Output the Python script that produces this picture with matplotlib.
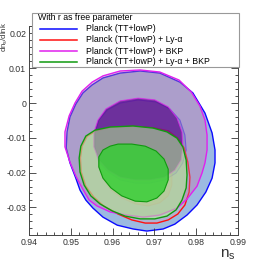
import matplotlib
matplotlib.use('Agg')
import matplotlib.pyplot as plt
from matplotlib.patches import Polygon, Rectangle
from matplotlib.lines import Line2D
from matplotlib.ticker import MultipleLocator

plt.rcParams['font.family'] = ['Liberation Sans', 'DejaVu Sans']

# contours: (n_s, dn_s/dlnk)
planck_2s = [(0.9666, 0.0092), (0.9713, 0.0086), (0.9761, 0.0060), (0.9792, 0.0029),
             (0.9821, -0.0029), (0.9838, -0.0086), (0.9845, -0.0135), (0.9845, -0.0172),
             (0.9838, -0.0216), (0.9823, -0.0256), (0.9802, -0.0293), (0.9778, -0.0322),
             (0.9749, -0.0348), (0.9721, -0.0362), (0.9682, -0.0368), (0.9649, -0.0362),
             (0.9611, -0.0351), (0.9577, -0.0328), (0.9553, -0.0302), (0.9536, -0.0279),
             (0.9522, -0.0250), (0.9512, -0.0216), (0.9498, -0.0172), (0.9489, -0.0129),
             (0.9491, -0.0083), (0.9498, -0.0040), (0.9512, -0.0003), (0.9529, 0.0029),
             (0.9551, 0.0052), (0.9577, 0.0072), (0.9618, 0.0086)]
planck_1s = [(0.9661, 0.0009), (0.9704, 0.0003), (0.9737, -0.0017), (0.9761, -0.0049),
             (0.9773, -0.0092), (0.9776, -0.0135), (0.9768, -0.0172), (0.9752, -0.0201),
             (0.9725, -0.0221), (0.9689, -0.0230), (0.9654, -0.0230), (0.9618, -0.0221),
             (0.9589, -0.0198), (0.9567, -0.0170), (0.9558, -0.0129), (0.9558, -0.0086),
             (0.9567, -0.0049), (0.9587, -0.0020), (0.9618, 0.0000)]
lya_2s = [(0.9596, -0.0070), (0.9649, -0.0067), (0.9697, -0.0071), (0.9733, -0.0080),
          (0.9756, -0.0101), (0.9771, -0.0129), (0.9780, -0.0170), (0.9785, -0.0213),
          (0.9783, -0.0256), (0.9773, -0.0293), (0.9756, -0.0319), (0.9733, -0.0336),
          (0.9706, -0.0345), (0.9678, -0.0345), (0.9646, -0.0336), (0.9613, -0.0319),
          (0.9579, -0.0296), (0.9555, -0.0270), (0.9536, -0.0239), (0.9525, -0.0198),
          (0.9523, -0.0158), (0.9527, -0.0124), (0.9539, -0.0096), (0.9560, -0.0080)]
lya_1s = [(0.9618, -0.0118), (0.9651, -0.0118), (0.9685, -0.0126), (0.9713, -0.0144),
          (0.9733, -0.0170), (0.9742, -0.0201), (0.9742, -0.0236), (0.9733, -0.0267),
          (0.9713, -0.0287), (0.9685, -0.0296), (0.9654, -0.0290), (0.9622, -0.0273),
          (0.9596, -0.0250), (0.9577, -0.0218), (0.9567, -0.0184), (0.9567, -0.0155),
          (0.9577, -0.0135), (0.9594, -0.0124)]
bkp_2s = [(0.9666, 0.0095), (0.9713, 0.0089), (0.9759, 0.0066), (0.9788, 0.0032),
          (0.9809, -0.0009), (0.9821, -0.0049), (0.9826, -0.0092), (0.9826, -0.0135),
          (0.9821, -0.0172), (0.9814, -0.0201), (0.9802, -0.0239), (0.9778, -0.0276),
          (0.9754, -0.0302), (0.9713, -0.0322), (0.9673, -0.0328), (0.9634, -0.0322),
          (0.9594, -0.0313), (0.9563, -0.0296), (0.9544, -0.0279), (0.9527, -0.0244),
          (0.9512, -0.0210), (0.9498, -0.0170), (0.9486, -0.0126), (0.9486, -0.0083),
          (0.9496, -0.0037), (0.9510, 0.0000), (0.9527, 0.0034), (0.9551, 0.0060),
          (0.9577, 0.0078), (0.9618, 0.0092)]
bkp_1s = [(0.9661, 0.0014), (0.9701, 0.0009), (0.9733, -0.0011), (0.9754, -0.0043),
          (0.9766, -0.0083), (0.9768, -0.0126), (0.9764, -0.0164), (0.9749, -0.0193),
          (0.9725, -0.0213), (0.9689, -0.0221), (0.9654, -0.0221), (0.9618, -0.0213),
          (0.9589, -0.0193), (0.9567, -0.0164), (0.9555, -0.0126), (0.9555, -0.0086),
          (0.9565, -0.0049), (0.9584, -0.0017), (0.9618, 0.0006)]
all_2s = [(0.9594, -0.0069), (0.9649, -0.0066), (0.9697, -0.0072), (0.9730, -0.0083),
          (0.9754, -0.0101), (0.9768, -0.0126), (0.9776, -0.0164), (0.9778, -0.0207),
          (0.9776, -0.0244), (0.9766, -0.0279), (0.9752, -0.0307), (0.9730, -0.0325),
          (0.9701, -0.0333), (0.9666, -0.0333), (0.9630, -0.0325), (0.9599, -0.0310),
          (0.9570, -0.0290), (0.9548, -0.0267), (0.9532, -0.0236), (0.9522, -0.0198),
          (0.9520, -0.0158), (0.9524, -0.0124), (0.9536, -0.0095), (0.9558, -0.0078)]
all_1s = [(0.9613, -0.0118), (0.9646, -0.0118), (0.9678, -0.0124), (0.9704, -0.0138),
          (0.9723, -0.0161), (0.9733, -0.0190), (0.9733, -0.0221), (0.9723, -0.0253),
          (0.9706, -0.0273), (0.9682, -0.0284), (0.9654, -0.0282), (0.9622, -0.0267),
          (0.9596, -0.0244), (0.9577, -0.0216), (0.9567, -0.0184), (0.9567, -0.0155),
          (0.9577, -0.0135), (0.9594, -0.0124)]

labels = ['Planck (TT+lowP)', 'Planck (TT+lowP) + Ly-\u03b1',
          'Planck (TT+lowP) + BKP', 'Planck (TT+lowP) + Ly-\u03b1 + BKP']
line_colors = ['#0a0aff', '#ff1010', '#e020ee', '#109a10']
fill_2s = [('#5a8cce', 0.6), ('#e0a0b0', 0.3), ('#c676ac', 0.4), ('#aeff8e', 0.5)]
fill_1s = [('#5a8cce', 0.6), ('#d8a070', 0.35), ('#5a0088', 0.66), ('#30d030', 0.8)]
inner_line_alpha = [0.6, 0.15, 0.7, 1.0]
contours = [(planck_2s, planck_1s), (lya_2s, lya_1s), (bkp_2s, bkp_1s), (all_2s, all_1s)]

xticks = [0.94, 0.95, 0.96, 0.97, 0.98, 0.99]
yticks = [0.02, 0.01, 0.0, -0.01, -0.02, -0.03]
ytick_labels = ['0.02', '0.01', '0', '-0.01', '-0.02', '-0.03']

fig = plt.figure(figsize=(2.73, 2.63), dpi=100)
ax = fig.add_axes([29/273, 28/263, 209/273, 209/263])

# each data set drawn as a layer: fills then its lines
for i, (c2, c1) in enumerate(contours):
    col, a = fill_2s[i]
    ax.add_patch(Polygon(c2, closed=True, facecolor=col, alpha=a, edgecolor='none'))
    col, a = fill_1s[i]
    ax.add_patch(Polygon(c1, closed=True, facecolor=col, alpha=a, edgecolor='none'))
    ax.add_patch(Polygon(c2, closed=True, fill=False, edgecolor=line_colors[i],
                         lw=1.0, joinstyle='round'))
    ax.add_patch(Polygon(c1, closed=True, fill=False, edgecolor=line_colors[i],
                         lw=0.8, alpha=inner_line_alpha[i], joinstyle='round'))

ax.set_xlim(0.94, 0.99)
ax.set_ylim(-0.03793, 0.02213)
ax.set_xticks(xticks, [f'{t:.2f}' for t in xticks])
ax.set_yticks(yticks, ytick_labels)
ax.xaxis.set_minor_locator(MultipleLocator(0.002))
ax.yaxis.set_minor_locator(MultipleLocator(0.002))
ax.tick_params(which='both', direction='in', top=True, right=True, color='#333333',
               labelsize=6.3, labelcolor='#333333', width=0.6)
ax.tick_params(which='major', length=5, pad=2)
ax.tick_params(which='minor', length=2.5)
for s in ax.spines.values():
    s.set_color('#444444')
    s.set_linewidth(0.7)

fig.text(5/273, 1 - 22/263, r'dn$_\mathregular{s}$/dlnk', rotation=90, ha='center', va='top',
         fontsize=5.6, color='#333333')
fig.text(236/273, 1 - 257/263, r'n$_\mathregular{s}$', ha='right', va='baseline',
         fontsize=11, color='#333333')

# legend box
fig.add_artist(Rectangle((32/273, 1 - 67/263), 207/273, 54/263, transform=fig.transFigure,
                         facecolor='white', edgecolor='#999999', lw=0.8, zorder=5))
fig.text(38/273, 1 - 17.5/263, 'With r as free parameter', ha='left', va='center',
         fontsize=6.3, color='black', zorder=6)
rows = [29, 40, 51, 62]
for i, lab in enumerate(labels):
    yy = 1 - rows[i]/263
    fig.add_artist(Line2D([40/273, 77/273], [yy, yy], transform=fig.transFigure,
                          color=line_colors[i], lw=1.1, zorder=6))
    fig.text(86/273, yy, lab, ha='left', va='center', fontsize=6.3, color='black', zorder=6)

fig.savefig('out.png', dpi=100)
